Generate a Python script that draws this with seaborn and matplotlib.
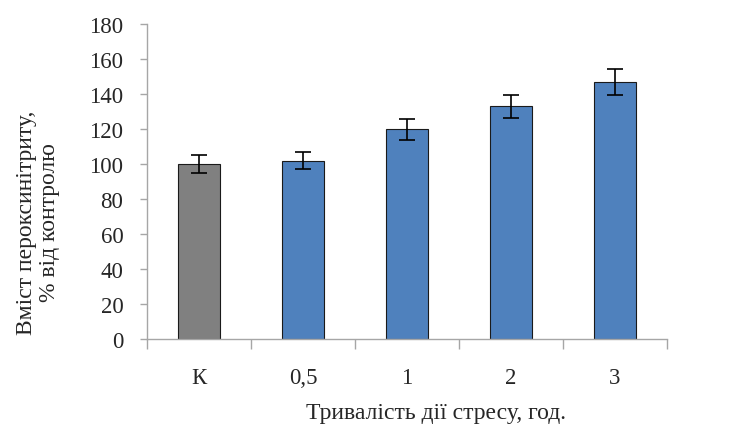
import numpy as np
import pandas as pd
import matplotlib
matplotlib.use("Agg")
import matplotlib.pyplot as plt
import seaborn as sns

sns.set_theme(style="white")
plt.rcParams["font.family"] = ["Liberation Serif", "DejaVu Serif"]

# data
categories = ["К", "0,5", "1", "2", "3"]
values = [100, 102, 120, 133, 147]
errors = [5, 5, 6, 6.7, 7.5]
bar_colors = ["#808080", "#4F81BD", "#4F81BD", "#4F81BD", "#4F81BD"]

df = pd.DataFrame({"group": categories, "value": values})

fig = plt.figure(figsize=(7.39, 4.27), dpi=100)
ax = fig.add_axes([147 / 739, 1 - 340 / 427, 520 / 739, 315 / 427])

sns.barplot(data=df, x="group", y="value", hue="group", palette=bar_colors,
            order=categories, hue_order=categories, errorbar=None, legend=False,
            width=0.4, edgecolor="#1a1a1a", linewidth=0.8, saturation=1, ax=ax)
ax.errorbar(np.arange(len(categories)), values, yerr=errors, fmt="none",
            ecolor="black", elinewidth=1.2, capsize=6, capthick=1.2)

ax.set_xlim(-0.5, len(categories) - 0.5)
ax.set_ylim(0, 180)
ax.set_yticks(range(0, 181, 20))
ax.set_xticks(np.arange(-0.5, len(categories), 1.0), minor=True)

spine_col = "#A6A6A6"
for side in ["top", "right"]:
    ax.spines[side].set_visible(False)
for side in ["left", "bottom"]:
    ax.spines[side].set_color(spine_col)
    ax.spines[side].set_linewidth(1.0)

ax.tick_params(axis="y", which="major", direction="out", length=5, width=1,
               color=spine_col, labelsize=16.5, pad=12, left=True)
ax.tick_params(axis="x", which="major", length=0, labelsize=16.5, pad=20)
ax.tick_params(axis="x", which="minor", direction="out", length=7, width=1,
               color=spine_col, bottom=True)

ax.set_xlabel("")
ax.set_ylabel("")
fig.text(38 / 739, 1 - 223 / 427, "Вміст пероксинітриту,\n% від контролю",
         rotation=90, ha="center", va="center", fontsize=17, linespacing=1.1)
fig.text(436 / 739, 1 - 414 / 427, "Тривалість дії стресу, год.",
         ha="center", va="center", fontsize=17)

fig.savefig("out.png", dpi=100)
